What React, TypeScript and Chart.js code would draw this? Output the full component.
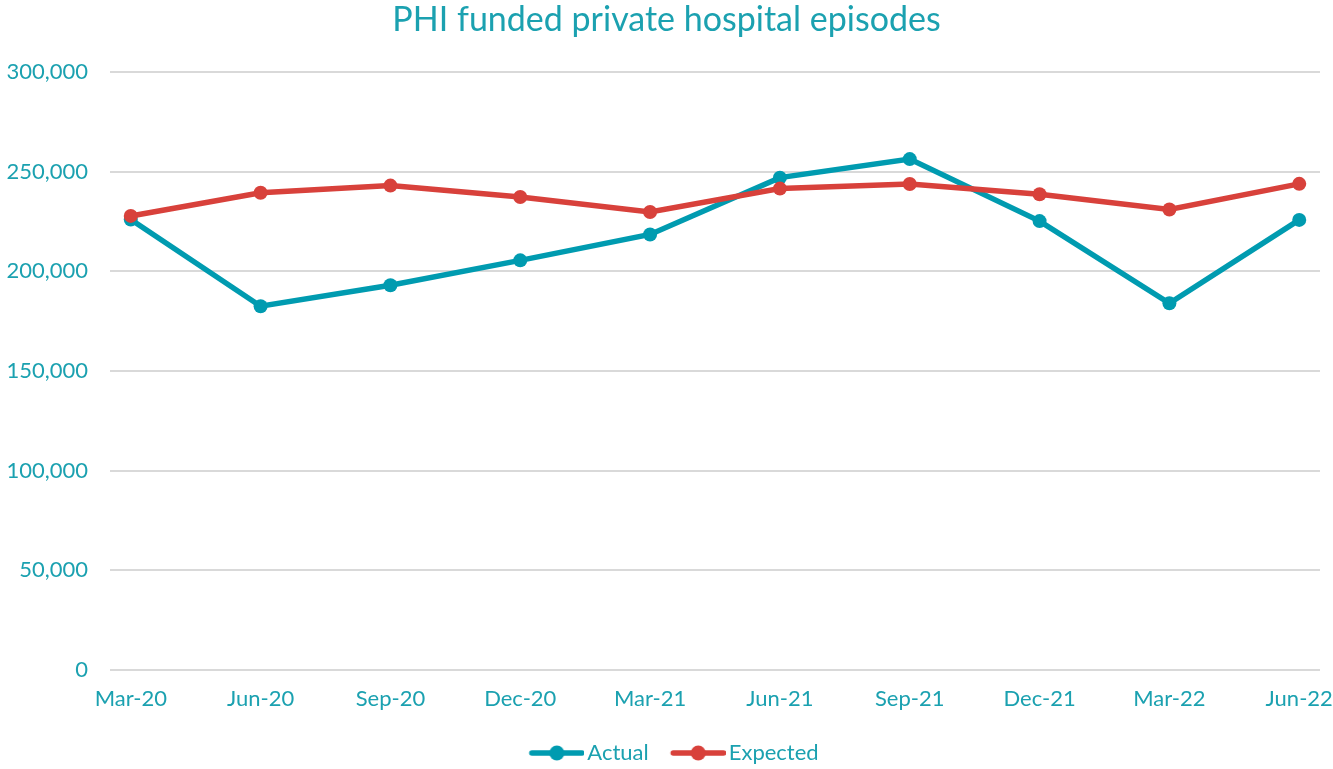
import React, { useEffect, useRef } from 'react';
import { Chart, registerables } from 'chart.js';

Chart.register(...registerables);

const categories = ['Mar-20', 'Jun-20', 'Sep-20', 'Dec-20', 'Mar-21', 'Jun-21', 'Sep-21', 'Dec-21', 'Mar-22', 'Jun-22'];
const actualValues = [226000, 182500, 193000, 205500, 218500, 247000, 256300, 225200, 184000, 225800];
const expectedValues = [227800, 239400, 243000, 237300, 229800, 241500, 243800, 238700, 231000, 243900];
const yTickValues = [0, 50000, 100000, 150000, 200000, 250000, 300000];

const TEAL = '#009BB0';
const RED = '#D8413B';
const TEXT = '#1BA1B0';
const GRID = '#D9D9D9';
const FONT = 'Lato, "Open Sans", sans-serif';

function legendMarker(color: string): HTMLCanvasElement {
  // visible marker occupies x = 23..78 of the canvas
  const c = document.createElement('canvas');
  c.width = 78;
  c.height = 16;
  const ctx = c.getContext('2d')!;
  ctx.strokeStyle = color;
  ctx.lineWidth = 5.5;
  ctx.lineCap = 'round';
  ctx.beginPath();
  ctx.moveTo(25.5, 8);
  ctx.lineTo(75.5, 8);
  ctx.stroke();
  ctx.fillStyle = color;
  ctx.beginPath();
  ctx.arc(50.5, 8, 7.5, 0, Math.PI * 2);
  ctx.fill();
  return c;
}

export default function App() {
  const ref = useRef<HTMLCanvasElement | null>(null);

  useEffect(() => {
    document.body.style.margin = '0';
    if (!ref.current) return;
    const actualMarker = legendMarker(TEAL);
    const expectedMarker = legendMarker(RED);
    const chart = new Chart(ref.current, {
      type: 'line',
      data: {
        datasets: [
          {
            label: 'Actual',
            data: actualValues.map((y, i) => ({ x: i, y })),
            borderColor: TEAL,
            backgroundColor: TEAL,
            borderWidth: 5.5,
            pointRadius: 7,
            pointBorderWidth: 0,
            pointStyle: 'circle',
            tension: 0,
            order: 1,
          },
          {
            label: 'Expected',
            data: expectedValues.map((y, i) => ({ x: i, y })),
            borderColor: RED,
            backgroundColor: RED,
            borderWidth: 5.5,
            pointRadius: 7,
            pointBorderWidth: 0,
            pointStyle: 'circle',
            tension: 0,
            order: 0,
          },
        ],
      },
      options: {
        animation: false,
        responsive: true,
        maintainAspectRatio: false,
        layout: { padding: { left: 0, right: 0, top: 0, bottom: -5 } },
        plugins: {
          title: {
            display: true,
            text: 'PHI funded private hospital episodes',
            color: TEXT,
            font: { family: FONT, size: 34, weight: 'normal' },
            padding: { top: 0, bottom: 31.2 },
          },
          legend: {
            display: true,
            position: 'bottom',
            labels: {
              usePointStyle: true,
              pointStyleWidth: 62,
              color: TEXT,
              font: { family: FONT, size: 22 },
              padding: 7,
              sort: (a: any, b: any) => a.datasetIndex - b.datasetIndex,
              generateLabels: (chart: any) =>
                chart.data.datasets.map((ds: any, i: number) => ({
                  text: ds.label,
                  fillStyle: ds.borderColor,
                  strokeStyle: ds.borderColor,
                  lineWidth: 0,
                  pointStyle: i === 0 ? actualMarker : expectedMarker,
                  datasetIndex: i,
                  hidden: false,
                  fontColor: TEXT,
                })),
            },
          },
          tooltip: { enabled: false },
        },
        scales: {
          x: {
            type: 'linear',
            min: -0.16,
            max: 9.16,
            grid: { display: false, drawTicks: false },
            border: { display: false },
            afterBuildTicks: (axis: any) => {
              axis.ticks = categories.map((_, i) => ({ value: i }));
            },
            afterFit: (scale: any) => {
              scale.height = 65;
              scale.paddingLeft = 0;
              scale.paddingRight = 13;
            },
            ticks: {
              color: TEXT,
              font: { family: FONT, size: 22 },
              padding: 16,
              maxRotation: 0,
              autoSkip: false,
              callback: (v: any) => categories[Math.round(Number(v))] ?? '',
            },
          },
          y: {
            type: 'linear',
            min: 0,
            max: 300000,
            afterBuildTicks: (axis: any) => {
              axis.ticks = yTickValues.map((v) => ({ value: v }));
            },
            afterFit: (scale: any) => {
              scale.width = 110;
            },
            grid: { color: GRID, lineWidth: 2, drawTicks: false },
            border: { display: false },
            ticks: {
              color: TEXT,
              font: { family: FONT, size: 22 },
              padding: 22,
              callback: (v: any) => Number(v).toLocaleString('en-US'),
            },
          },
        },
      },
    });
    return () => chart.destroy();
  }, []);

  return (
    <div style={{ width: 1333, height: 769, position: 'relative', background: '#fff' }}>
      <canvas ref={ref} />
    </div>
  );
}
